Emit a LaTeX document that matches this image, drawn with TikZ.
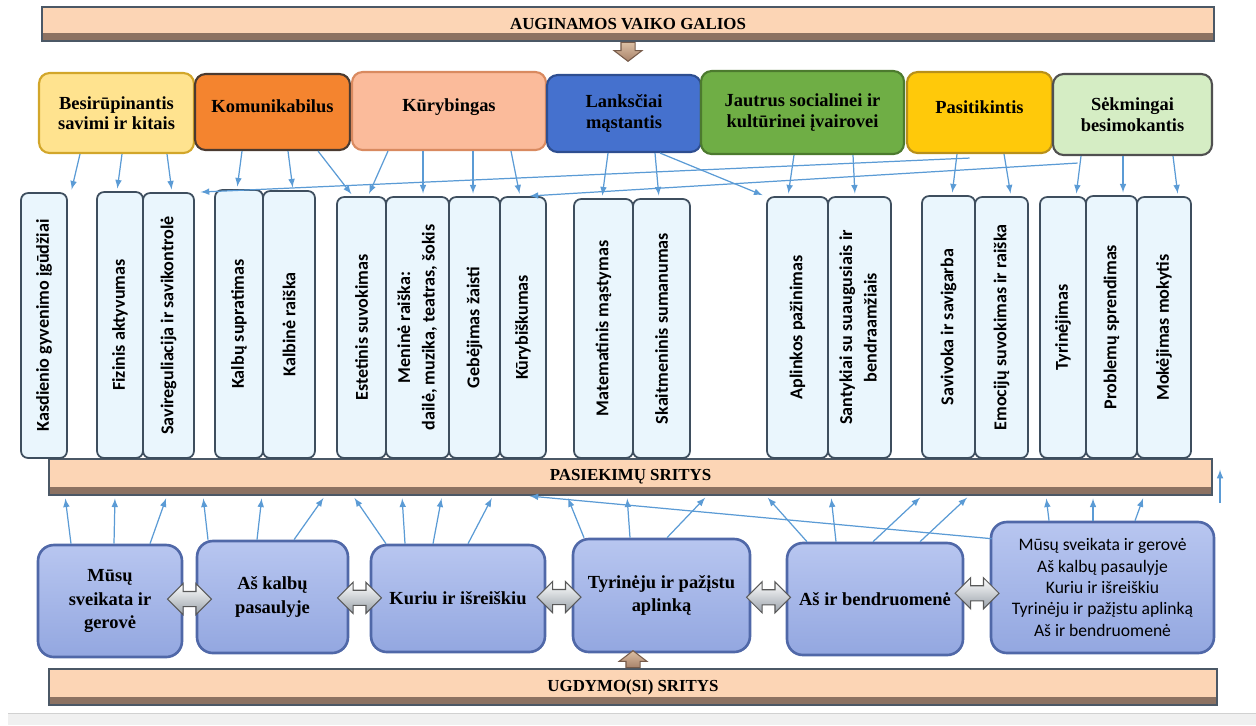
\documentclass[tikz,border=0pt]{standalone}
\usepackage{fontspec}
\setmainfont{Liberation Serif}
\newfontfamily\calfont{Carlito}
\usetikzlibrary{calc}
\usetikzlibrary{shapes,arrows}

\definecolor{peach}{HTML}{FCD5B5}
\definecolor{peachdark}{HTML}{8C7262}
\definecolor{barline}{HTML}{4B5866}
\definecolor{colfill}{HTML}{EAF6FD}
\definecolor{colline}{HTML}{3E4E5E}
\definecolor{linkblue}{HTML}{5B9BD5}
\definecolor{areatop}{HTML}{B8C6F0}
\definecolor{areabot}{HTML}{93A7E0}
\definecolor{arealine}{HTML}{5068A8}
\definecolor{tanlight}{HTML}{DCC0A4}
\definecolor{tandark}{HTML}{A8826A}
\definecolor{silverdark}{HTML}{9AA2AA}
\definecolor{g1}{HTML}{FFE38F}
\definecolor{g1line}{HTML}{D2A62A}
\definecolor{g2}{HTML}{F4842F}
\definecolor{g2line}{HTML}{4A3A30}
\definecolor{g3}{HTML}{FBBB9B}
\definecolor{g3line}{HTML}{D98A60}
\definecolor{g4}{HTML}{4571CE}
\definecolor{g4line}{HTML}{2E4E90}
\definecolor{g5}{HTML}{6FAE45}
\definecolor{g5line}{HTML}{4C7A2E}
\definecolor{g6}{HTML}{FFC90A}
\definecolor{g6line}{HTML}{B8901A}
\definecolor{g7}{HTML}{D5EDC4}
\definecolor{g7line}{HTML}{505050}

\begin{document}
\begin{tikzpicture}[x=0.02cm, y=-0.02cm,
    banner/.style={draw=barline, line width=0.9pt, fill=peach, inner sep=0pt,
      font=\fontsize{9.6}{11}\selectfont\bfseries,
      path picture={\fill[peachdark] ([yshift=0.16cm]path picture bounding box.south west) rectangle (path picture bounding box.south east);}},
    galia/.style={rounded corners=6pt, line width=1.2pt, align=center, inner sep=2pt,
      font=\fontsize{10.5}{11.6}\selectfont\bfseries},
    oneline/.style={text height=8pt, text depth=7pt},
    skill/.style={draw=colline, fill=colfill, line width=1pt, rounded corners=4pt, inner sep=0pt,
      font=\calfont\fontsize{10.3}{14}\selectfont\bfseries},
    area/.style={draw=arealine, line width=1.5pt, top color=areatop, bottom color=areabot,
      rounded corners=9pt, align=center, font=\fontsize{10.5}{13.5}\selectfont\bfseries},
    link/.style={draw=linkblue, line width=0.7pt, -latex, shorten >=1.5pt},
    blkarrow/.style={single arrow, draw=tandark!70!black, line width=0.6pt, top color=tanlight,
      bottom color=tandark, inner xsep=0.13cm, inner ysep=0pt, single arrow head extend=0.14cm,
      single arrow tip angle=105},
    twoway/.style={double arrow, draw=gray!70!black, line width=0.6pt, top color=white,
      bottom color=silverdark, inner xsep=0pt, inner ysep=0.14cm, minimum height=0.88cm,
      double arrow head extend=0.16cm}
  ]
    \useasboundingbox (0,0) rectangle (1256,725);
    \fill[black!6] (8,713) rectangle (1256,725);
    \draw[black!18] (8,713) -- (1256,713);

    % banners
    \node[banner, minimum width=23.44cm, minimum height=0.68cm] (galios) at (628,24) {AUGINAMOS VAIKO GALIOS};
    \node[banner, minimum width=23.26cm, minimum height=0.72cm] (pas) at (630.5,477) {PASIEKIMŲ SRITYS};
    \node[banner, minimum width=23.36cm, minimum height=0.72cm] (ugd) at (633,687) {UGDYMO(SI) SRITYS};

    % galios
    \node[galia, fill=g1, draw=g1line, minimum width=3.10cm, minimum height=1.60cm] (t1) at (116.5,113) {Besirūpinantis\\savimi ir kitais};
    \node[galia, oneline, fill=g2, draw=g2line, minimum width=3.10cm, minimum height=1.52cm] (t2) at (272.5,112) {Komunikabilus};
    \node[galia, oneline, fill=g3, draw=g3line, minimum width=3.88cm, minimum height=1.56cm] (t3) at (449,111) {Kūrybingas};
    \node[galia, fill=g4, draw=g4line, minimum width=3.08cm, minimum height=1.54cm] (t4) at (624,113.5) {Lanksčiai\\mąstantis};
    \node[galia, fill=g5, draw=g5line, minimum width=4.06cm, minimum height=1.66cm] (t5) at (802.5,112.5) {Jautrus socialinei ir\\kultūrinei įvairovei};
    \node[galia, oneline, fill=g6, draw=g6line, minimum width=2.90cm, minimum height=1.62cm] (t6) at (979.5,112.5) {Pasitikintis};
    \node[galia, fill=g7, draw=g7line, minimum width=3.18cm, minimum height=1.62cm] (t7) at (1132.5,114.5) {Sėkmingai\\besimokantis};

    \node[blkarrow, shape border rotate=270, minimum height=0.38cm, anchor=tail] (gdown) at (galios.south) {};

    % pasiekimu sritys
    \node[skill, minimum width=0.92cm, minimum height=5.30cm] (c1) at (44,325.5) {\rotatebox{90}{Kasdienio gyvenimo įgūdžiai}};
    \node[skill, minimum width=0.92cm, minimum height=5.32cm] (c2) at (120,325) {\rotatebox{90}{Fizinis aktyvumas}};
    \node[skill, minimum width=1.02cm, minimum height=5.30cm] (c3) at (168.5,325.5) {\rotatebox{90}{Savireguliacija ir savikontrolė}};
    \node[skill, minimum width=0.96cm, minimum height=5.36cm] (c4) at (239,324) {\rotatebox{90}{Kalbų supratimas}};
    \node[skill, minimum width=1.04cm, minimum height=5.34cm] (c5) at (289,324.5) {\rotatebox{90}{Kalbinė raiška}};
    \node[skill, minimum width=0.98cm, minimum height=5.22cm] (c6) at (361.5,327.5) {\rotatebox{90}{Estetinis suvokimas}};
    \node[skill, minimum width=1.26cm, minimum height=5.22cm] (c7) at (417.5,327.5) {\rotatebox{90}{\begin{tabular}{@{}c@{}}Meninė raiška:\\dailė, muzika, teatras, šokis\end{tabular}}};
    \node[skill, minimum width=1.02cm, minimum height=5.22cm] (c8) at (474.5,327.5) {\rotatebox{90}{Gebėjimas žaisti}};
    \node[skill, minimum width=0.92cm, minimum height=5.22cm] (c9) at (523,327.5) {\rotatebox{90}{Kūrybiškumas}};
    \node[skill, minimum width=1.18cm, minimum height=5.18cm] (c10) at (603.5,328.5) {\rotatebox{90}{Matematinis mąstymas}};
    \node[skill, minimum width=1.14cm, minimum height=5.18cm] (c11) at (661.5,328.5) {\rotatebox{90}{Skaitmeninis sumanumas}};
    \node[skill, minimum width=1.22cm, minimum height=5.22cm] (c12) at (797.5,327.5) {\rotatebox{90}{Aplinkos pažinimas}};
    \node[skill, minimum width=1.26cm, minimum height=5.22cm] (c13) at (859.5,327.5) {\rotatebox{90}{\begin{tabular}{@{}c@{}}Santykiai su suaugusiais ir\\bendraamžiais\end{tabular}}};
    \node[skill, minimum width=1.06cm, minimum height=5.24cm] (c14) at (948.5,327) {\rotatebox{90}{Savivoka ir savigarba}};
    \node[skill, minimum width=1.06cm, minimum height=5.22cm] (c15) at (1001.5,327.5) {\rotatebox{90}{Emocijų suvokimas ir raiška}};
    \node[skill, minimum width=0.92cm, minimum height=5.22cm] (c16) at (1063,327.5) {\rotatebox{90}{Tyrinėjimas}};
    \node[skill, minimum width=1.02cm, minimum height=5.24cm] (c17) at (1111.5,327) {\rotatebox{90}{Problemų sprendimas}};
    \node[skill, minimum width=1.08cm, minimum height=5.22cm] (c18) at (1164,327.5) {\rotatebox{90}{Mokėjimas mokytis}};

    % ugdymo(si) sritys
    \node[area, minimum width=2.88cm, minimum height=2.24cm] (b1) at (110,601) {Mūsų\\sveikata ir\\gerovė};
    \node[area, minimum width=3.02cm, minimum height=2.24cm] (b2) at (272.5,597) {Aš kalbų\\pasaulyje};
    \node[area, minimum width=3.48cm, minimum height=2.14cm] (b3) at (458,598.5) {Kuriu ir išreiškiu};
    \node[area, minimum width=3.54cm, minimum height=2.26cm] (b4) at (661.5,595.5) {Tyrinėju ir pažįstu\\aplinką};
    \node[area, minimum width=3.52cm, minimum height=2.24cm] (b5) at (875,599) {Aš ir bendruomenė};
    \node[area, minimum width=4.46cm, minimum height=2.62cm, font=\calfont\fontsize{10}{12.2}\selectfont] (b6) at (1102.5,587.5) {Mūsų sveikata ir gerovė\\Aš kalbų pasaulyje\\Kuriu ir išreiškiu\\Tyrinėju ir pažįstu aplinką\\Aš ir bendruomenė};

    \node[twoway] (a12) at ($(b1.east)!.5!(b2.west)$) {};
    \node[twoway] (a23) at ($(b2.east)!.5!(b3.west)$) {};
    \node[twoway] (a34) at ($(b3.east)!.5!(b4.west)$) {};
    \node[twoway] (a45) at ($(b4.east)!.5!(b5.west)$) {};
    \node[twoway] (a56) at ($(b5.east)!.5!(b6.west)$) {};

    \node[blkarrow, shape border rotate=90, minimum height=0.34cm, anchor=tail] (uup) at (ugd.north) {};

    % galios -> sritys
    \draw[link] (80,0 |- t1.south) -- (71,0 |- c1.north);
    \draw[link] (122,0 |- t1.south) -- (117,0 |- c2.north);
    \draw[link] (167,0 |- t1.south) -- (172,0 |- c3.north);
    \draw[link] (242,0 |- t2.south) -- (237,0 |- c4.north);
    \draw[link] (288,0 |- t2.south) -- (293,0 |- c5.north);
    \draw[link] (318,0 |- t2.south) -- (353,0 |- c6.north);
    \draw[link] (388,0 |- t3.south) -- (368,0 |- c6.north);
    \draw[link] (423,0 |- t3.south) -- (423,0 |- c7.north);
    \draw[link] (473,0 |- t3.south) -- (473,0 |- c8.north);
    \draw[link] (511,0 |- t3.south) -- (520,0 |- c9.north);
    \draw[link] (608,0 |- t4.south) -- (602,0 |- c10.north);
    \draw[link] (655,0 |- t4.south) -- (659,0 |- c11.north);
    \draw[link] (660,0 |- t4.south) -- (765,0 |- c12.north);
    \draw[link] (794,0 |- t5.south) -- (788,0 |- c12.north);
    \draw[link] (853,0 |- t5.south) -- (855,0 |- c13.north);
    \draw[link] (957,0 |- t6.south) -- (952,0 |- c14.north);
    \draw[link] (1004,0 |- t6.south) -- (1011,0 |- c15.north);
    \draw[link] (1081,0 |- t7.south) -- (1076,0 |- c16.north);
    \draw[link] (1123,0 |- t7.south) -- (1123,0 |- c17.north);
    \draw[link] (1173,0 |- t7.south) -- (1178,0 |- c18.north);
    \draw[link] ($(t6.south)+(-10,4)$) -- (198,0 |- c3.north);
    \draw[link] ($(t7.south)+(-55,7)$) -- (527,0 |- c9.north);

    % ugdymo sritys -> pasiekimai
    \draw[link] (71,0 |- b1.north) -- (65,0 |- pas.south);
    \draw[link] (114,0 |- b1.north) -- (115,0 |- pas.south);
    \draw[link] (150,0 |- b1.north) -- (167,0 |- pas.south);
    \draw[link] (208,0 |- b2.north) -- (203,0 |- pas.south);
    \draw[link] (257,0 |- b2.north) -- (262,0 |- pas.south);
    \draw[link] (294,0 |- b2.north) -- (325,0 |- pas.south);
    \draw[link] (386,0 |- b3.north) -- (353,0 |- pas.south);
    \draw[link] (405,0 |- b3.north) -- (402,0 |- pas.south);
    \draw[link] (433,0 |- b3.north) -- (442,0 |- pas.south);
    \draw[link] (468,0 |- b3.north) -- (493,0 |- pas.south);
    \draw[link] (584,0 |- b4.north) -- (567,0 |- pas.south);
    \draw[link] (630,0 |- b4.north) -- (627,0 |- pas.south);
    \draw[link] (667,0 |- b4.north) -- (707,0 |- pas.south);
    \draw[link] (807,0 |- b5.north) -- (766,0 |- pas.south);
    \draw[link] (836,0 |- b5.north) -- (831,0 |- pas.south);
    \draw[link] (873,0 |- b5.north) -- (922,0 |- pas.south);
    \draw[link] (920,0 |- b5.north) -- (969,0 |- pas.south);
    \draw[link] (1049,0 |- b6.north) -- (1046,0 |- pas.south);
    \draw[link] (1093,0 |- b6.north) -- (1093,0 |- pas.south);
    \draw[link] (1135,0 |- b6.north) -- (1144,0 |- pas.south);
    \draw[link] ($(b6.north west)+(2,18)$) -- (527,0 |- pas.south);

    \coordinate (free0) at (1220,503);
    \coordinate (free1) at (1220,467);
    \draw[link] (free0) -- (free1);
\end{tikzpicture}
\end{document}
